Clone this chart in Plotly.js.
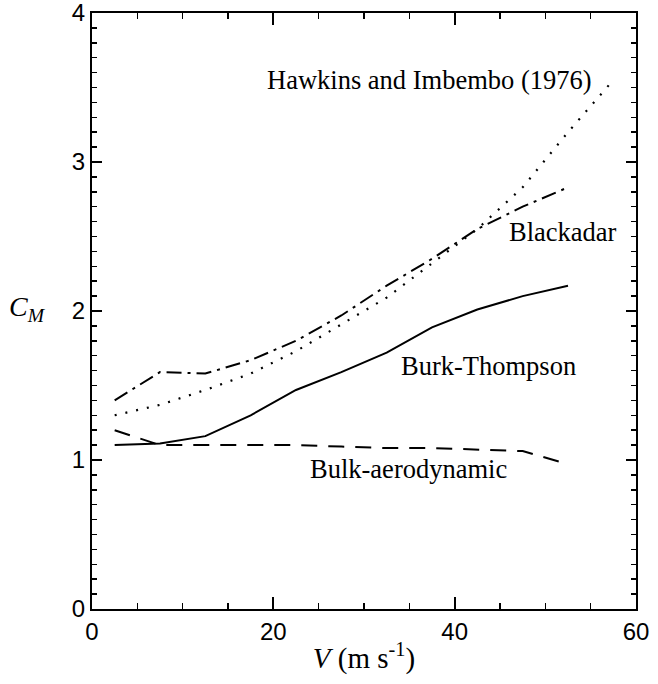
<!DOCTYPE html>
<html>
<head>
<meta charset="utf-8">
<script src="https://cdn.plot.ly/plotly-3.0.1.min.js"></script>
<style>html,body{margin:0;padding:0;background:#fff;}#chart{width:658px;height:684px;}</style>
</head>
<body>
<div id="chart"></div>
<script>
// Data
const vBulk = [2.5, 7.5, 12.5, 17.5, 22.5, 27.5, 32.5, 37.5, 42.5, 47.5, 51.5];
const cmBulk = [1.20, 1.10, 1.10, 1.10, 1.10, 1.09, 1.08, 1.08, 1.07, 1.06, 0.99];

const vBurk = [2.5, 7.5, 12.5, 17.5, 22.5, 27.5, 32.5, 37.5, 42.5, 47.5, 52.5];
const cmBurk = [1.10, 1.11, 1.16, 1.30, 1.47, 1.59, 1.72, 1.89, 2.01, 2.10, 2.17];

const vBlack = [2.5, 7.5, 12.5, 17.5, 22.5, 27.5, 32.5, 37.5, 42.5, 47.5, 52.5];
const cmBlack = [1.40, 1.59, 1.58, 1.67, 1.80, 1.97, 2.17, 2.35, 2.55, 2.70, 2.83];

const vHawk = [2.5, 7.5, 12.5, 17.5, 22.5, 27.5, 32.5, 37.5, 42.5, 47.5, 52.5, 57.5];
const cmHawk = [1.30, 1.37, 1.47, 1.58, 1.73, 1.91, 2.09, 2.32, 2.55, 2.83, 3.20, 3.55];

const xTicks = [0, 20, 40, 60];
const yTicks = [0, 1, 2, 3, 4];

const curveLabels = ["Hawkins and Imbembo (1976)", "Blackadar", "Burk-Thompson", "Bulk-aerodynamic"];
const labelX = [37.2, 51.9, 43.7, 34.9];
const labelY = [3.55, 2.53, 1.63, 0.94];

const serif = "Liberation Serif, Times New Roman, serif";
const sans = "Liberation Sans, Arial, Helvetica, sans-serif";

const traces = [
  {x: vBulk, y: cmBulk, mode: "lines", line: {color: "#000", width: 2, dash: "16px,11px"}},
  {x: vBurk, y: cmBurk, mode: "lines", line: {color: "#000", width: 2, dash: "solid"}},
  {x: vBlack, y: cmBlack, mode: "lines", line: {color: "#000", width: 2, dash: "15px,6px,3px,6px"}},
  {x: vHawk, y: cmHawk, mode: "lines", line: {color: "#000", width: 2.2, dash: "2px,9px"}}
];

const annotations = curveLabels.map((t, i) => ({
  x: labelX[i], y: labelY[i], xref: "x", yref: "y", text: t, showarrow: false,
  font: {family: serif, size: 26.5, color: "#000"}
}));
annotations.push({
  xref: "paper", yref: "paper", x: -0.08, y: 0.505, xanchor: "right", yanchor: "middle",
  text: "<i>C</i><sub><i>M</i></sub>", showarrow: false,
  font: {family: serif, size: 28, color: "#000"}
});

const axisCommon = {
  showgrid: false, zeroline: false, showline: true, linecolor: "#000", linewidth: 2,
  mirror: "allticks", ticks: "inside", tickcolor: "#000", tickwidth: 2,
  ticklabeloverflow: "allow",
  tickfont: {family: sans, size: 24, color: "#000"}
};

const layout = {
  width: 658, height: 684,
  margin: {l: 92, r: 22, t: 13, b: 75},
  paper_bgcolor: "#fff", plot_bgcolor: "#fff",
  showlegend: false,
  xaxis: Object.assign({}, axisCommon, {
    range: [0, 60], tickvals: xTicks, ticktext: xTicks.map(String), ticklen: 12,
    minor: {dtick: 5, ticks: "inside", ticklen: 6, tickcolor: "#000", tickwidth: 1.5},
    title: {text: "<i>V</i> (m s<sup>-1</sup>)", font: {family: serif, size: 29, color: "#000"}, standoff: 4}
  }),
  yaxis: Object.assign({}, axisCommon, {
    range: [0, 4], tickvals: yTicks, ticktext: yTicks.map(String), ticklen: 10,
    minor: {dtick: 0.1, ticks: "inside", ticklen: 5, tickcolor: "#000", tickwidth: 1.5}
  }),
  annotations: annotations
};

Plotly.newPlot("chart", traces, layout, {staticPlot: true, displayModeBar: false});
</script>
</body>
</html>
